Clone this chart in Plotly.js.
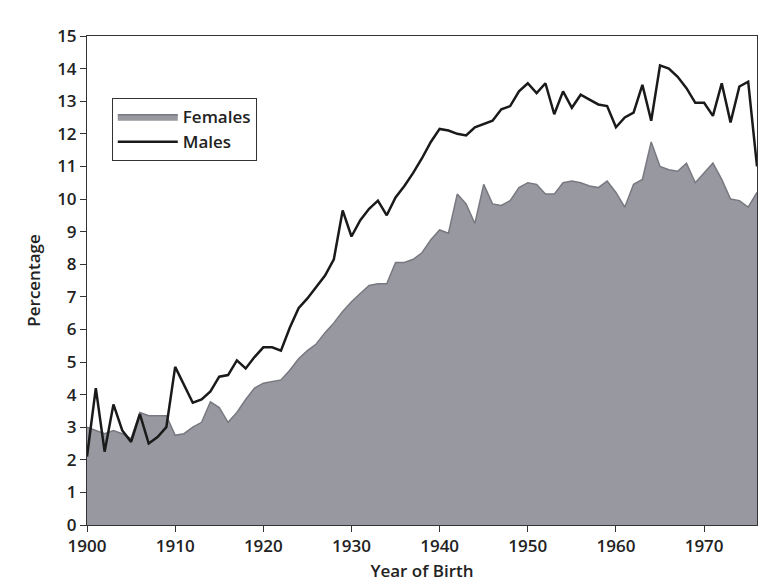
<!DOCTYPE html>
<html>
<head>
<meta charset="utf-8">
<script src="https://cdn.plot.ly/plotly-3.0.1.min.js"></script>
<style>
html,body{margin:0;padding:0;background:#fff;}
#chart{width:763px;height:588px;}
</style>
</head>
<body>
<div id="chart"></div>
<script>
// Year of birth (annual)
const years = [];
for (let y = 1900; y <= 1976; y++) years.push(y);

// Percentage
const males = [
  2.1, 4.2, 2.25, 3.7, 2.9, 2.55, 3.4, 2.5, 2.7, 3.0,
  4.85, 4.3, 3.75, 3.85, 4.1, 4.55, 4.6, 5.05, 4.8, 5.15,
  5.45, 5.45, 5.35, 6.05, 6.65, 6.95, 7.3, 7.65, 8.15, 9.65,
  8.85, 9.35, 9.7, 9.95, 9.5, 10.05, 10.4, 10.8, 11.25, 11.75,
  12.15, 12.1, 12.0, 11.95, 12.2, 12.3, 12.4, 12.75, 12.85, 13.3,
  13.55, 13.25, 13.55, 12.6, 13.3, 12.8, 13.2, 13.05, 12.9, 12.85,
  12.2, 12.5, 12.65, 13.5, 12.4, 14.1, 14.0, 13.75, 13.4, 12.95,
  12.95, 12.55, 13.55, 12.35, 13.45, 13.6, 11.0
];
const females = [
  3.0, 2.9, 2.8, 2.9, 2.8, 2.65, 3.45, 3.35, 3.35, 3.35,
  2.75, 2.8, 3.0, 3.15, 3.78, 3.6, 3.15, 3.45, 3.85, 4.2,
  4.35, 4.4, 4.45, 4.75, 5.1, 5.35, 5.55, 5.9, 6.2, 6.55,
  6.85, 7.1, 7.35, 7.4, 7.4, 8.05, 8.05, 8.15, 8.35, 8.75,
  9.05, 8.95, 10.15, 9.85, 9.25, 10.45, 9.85, 9.8, 9.95, 10.35,
  10.5, 10.45, 10.15, 10.15, 10.5, 10.55, 10.5, 10.4, 10.35, 10.55,
  10.2, 9.75, 10.45, 10.6, 11.75, 11.0, 10.9, 10.85, 11.1, 10.5,
  10.8, 11.1, 10.6, 10.0, 9.95, 9.75, 10.2
];
const xTicks = [1900, 1910, 1920, 1930, 1940, 1950, 1960, 1970];
const yTicks = [0,1,2,3,4,5,6,7,8,9,10,11,12,13,14,15];

const fontFamily = '"Open Sans", "Noto Sans", sans-serif';

const traces = [
  {
    x: years, y: females, name: 'Females', type: 'scatter', mode: 'lines',
    fill: 'tozeroy', fillcolor: 'rgb(152,152,160)',
    line: {color: 'rgb(120,120,128)', width: 1.5}
  },
  {
    x: years, y: males, name: 'Males', type: 'scatter', mode: 'lines',
    line: {color: '#1a1a1a', width: 2.5}
  }
];

const layout = {
  width: 763, height: 588,
  margin: {l: 87, r: 6, t: 36, b: 63},
  paper_bgcolor: '#ffffff', plot_bgcolor: '#ffffff',
  font: {family: fontFamily, size: 17, color: '#222', weight: 600},
  showlegend: true,
  legend: {
    x: 0.037, y: 0.873, xanchor: 'left', yanchor: 'top',
    bordercolor: '#333', borderwidth: 1, bgcolor: '#ffffff',
    font: {family: fontFamily, size: 17, color: '#222', weight: 600},
    traceorder: 'normal', tracegroupgap: 0, itemwidth: 60
  },
  xaxis: {
    range: [1900, 1976], tickvals: xTicks, ticktext: xTicks.map(String),
    showgrid: false, zeroline: false, showline: true, linecolor: '#333', linewidth: 1,
    mirror: true, ticks: 'outside', ticklen: 6, tickcolor: '#333',
    tickfont: {family: fontFamily, size: 17, color: '#222', weight: 600},
    title: {text: 'Year of Birth', font: {family: fontFamily, size: 17, color: '#222', weight: 600}, standoff: 8}
  },
  yaxis: {
    range: [0, 15], tickvals: yTicks,
    showgrid: false, zeroline: false, showline: true, linecolor: '#333', linewidth: 1,
    mirror: true, ticks: 'outside', ticklen: 6, tickcolor: '#333',
    tickfont: {family: fontFamily, size: 17, color: '#222', weight: 600},
    title: {text: 'Percentage', font: {family: fontFamily, size: 17, color: '#222', weight: 600}, standoff: 12}
  }
};

Plotly.newPlot('chart', traces, layout, {displayModeBar: false, staticPlot: true});
</script>
</body>
</html>
